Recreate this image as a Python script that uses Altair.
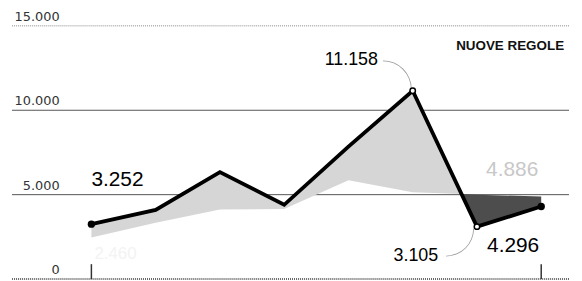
import math
import altair as alt
import pandas as pd

# ---- data ----
periods = [0, 1, 2, 3, 4, 5, 6, 7]
totale = [3252, 4100, 6340, 4400, 7850, 11158, 3105, 4296]        # black line
precedente = [2460, 3340, 4120, 4150, 5850, 5150, 5000, 4886]     # light grey line
grid_values = [0, 5000, 10000, 15000]
grid_labels = ["0", "5.000", "10.000", "15.000"]
legend_text = "NUOVE REGOLE"


def it(v):
    return f"{v:,}".replace(",", ".")


df = pd.DataFrame({"p": periods, "a": totale, "b": precedente})

# split the band where the two lines cross (derived from the data)
light_rows, dark_rows = [], []
for i in range(len(periods)):
    d = totale[i] - precedente[i]
    row = {"p": periods[i], "a": totale[i], "b": precedente[i]}
    (light_rows if d >= 0 else dark_rows).append(row)
    if i + 1 < len(periods):
        d2 = totale[i + 1] - precedente[i + 1]
        if d * d2 < 0:
            t = d / (d - d2)
            xc = periods[i] + t * (periods[i + 1] - periods[i])
            yc = totale[i] + t * (totale[i + 1] - totale[i])
            cross = {"p": xc, "a": yc, "b": yc}
            light_rows.append(cross)
            dark_rows.append(cross)
light_df = pd.DataFrame(light_rows)
dark_df = pd.DataFrame(dark_rows)

grid_df = pd.DataFrame({"v": grid_values, "label": grid_labels})

xs = alt.Scale(domain=[-1.236, 7.433], nice=False, zero=False)
ys = alt.Scale(domain=[0, 15000], nice=False, zero=False)
X = alt.X("p:Q", scale=xs, axis=None)
Y = alt.Y("a:Q", scale=ys, axis=None)
YB = alt.Y("b:Q", scale=ys, axis=None)

grid_solid = alt.Chart(grid_df).transform_filter(
    "datum.v == 5000 || datum.v == 10000"
).mark_rule(color="#555555", strokeWidth=1).encode(y=alt.Y("v:Q", scale=ys, axis=None))

grid_top = alt.Chart(grid_df).transform_filter("datum.v == 15000").mark_rule(
    color="#888888", strokeWidth=1, strokeDash=[1, 1]
).encode(y=alt.Y("v:Q", scale=ys, axis=None))

grid_base = alt.Chart(grid_df).transform_filter("datum.v == 0").mark_rule(
    color="#333333", strokeWidth=1.5, strokeDash=[1, 1]
).encode(y=alt.Y("v:Q", scale=ys, axis=None))

grid_text = alt.Chart(grid_df).mark_text(
    align="right", baseline="alphabetic", dy=-5, font="DejaVu Sans",
    fontSize=13, color="#333333"
).encode(x=alt.value(48), y=alt.Y("v:Q", scale=ys, axis=None), text="label:N")

light_area = alt.Chart(light_df).mark_area(color="#d6d6d6", opacity=1).encode(
    x=X, y=Y, y2="b:Q"
)
dark_area = alt.Chart(dark_df).mark_area(color="#4d4d4d", opacity=1).encode(
    x=X, y=Y, y2="b:Q"
)

line = alt.Chart(df).mark_line(color="black", strokeWidth=3.8, strokeJoin="miter").encode(x=X, y=Y)

end_points = alt.Chart(df).transform_filter("datum.p == 0 || datum.p == 7").mark_point(
    filled=True, color="black", size=55, opacity=1
).encode(x=X, y=Y)

open_points = alt.Chart(df).transform_filter("datum.p == 5 || datum.p == 6").mark_point(
    filled=True, fill="white", stroke="black", strokeWidth=1.5, size=30, opacity=1
).encode(x=X, y=Y)

arc_max = alt.Chart(df).transform_filter("datum.p == 5").mark_arc(
    radius=29, radius2=28.2, theta=0, theta2=math.pi / 2, color="#999999",
    xOffset=-30, yOffset=-1.5
).encode(x=X, y=Y)

arc_min = alt.Chart(df).transform_filter("datum.p == 6").mark_arc(
    radius=28, radius2=27.2, theta=math.pi / 2, theta2=math.pi, color="#999999",
    xOffset=-31, yOffset=2
).encode(x=X, y=Y)

ticks = alt.Chart(df).transform_filter("datum.p == 0 || datum.p == 7").mark_rule(
    color="#333333", strokeWidth=1.5
).encode(x=X, y=alt.value(240), y2=alt.value(255))

df_lab = df.assign(la=[it(v) for v in totale], lb=[it(v) for v in precedente])

lab_first = alt.Chart(df_lab).transform_filter("datum.p == 0").mark_text(
    align="left", baseline="middle", dy=-44, fontSize=21, font="Liberation Sans", color="black"
).encode(x=X, y=Y, text="la:N")

lab_last = alt.Chart(df_lab).transform_filter("datum.p == 7").mark_text(
    align="right", baseline="middle", dx=-2, dy=40, fontSize=21, font="Liberation Sans", color="black"
).encode(x=X, y=Y, text="la:N")

lab_last_b = alt.Chart(df_lab).transform_filter("datum.p == 7").mark_text(
    align="right", baseline="middle", dx=-3, dy=-27, fontSize=21, font="Liberation Sans", color="#c8c8c8"
).encode(x=X, y=YB, text="lb:N")

lab_first_b = alt.Chart(df_lab).transform_filter("datum.p == 0").mark_text(
    align="left", baseline="middle", dx=3, dy=17, fontSize=17, font="Liberation Sans", color="#f3f3f3"
).encode(x=X, y=YB, text="lb:N")

lab_max = alt.Chart(df_lab).transform_filter("datum.p == 5").mark_text(
    align="right", baseline="middle", dx=-35, dy=-31, fontSize=18, font="Liberation Sans", color="black"
).encode(x=X, y=Y, text="la:N")

lab_min = alt.Chart(df_lab).transform_filter("datum.p == 6").mark_text(
    align="right", baseline="middle", dx=-39, dy=29.5, fontSize=18, font="Liberation Sans", color="black"
).encode(x=X, y=Y, text="la:N")

legend = alt.Chart(pd.DataFrame({"t": [legend_text]})).mark_text(
    align="right", baseline="alphabetic", fontSize=13.5, fontWeight="bold",
    font="Liberation Sans", color="#111111"
).encode(x=alt.value(556), y=alt.value(24), text="t:N")

chart = alt.layer(
    grid_solid, grid_top, grid_base, grid_text,
    light_area, dark_area, arc_max, arc_min, line, end_points, open_points,
    ticks, lab_first, lab_last, lab_last_b, lab_first_b, lab_max, lab_min, legend
).properties(
    width=561, height=255,
    background="white",
    autosize=alt.AutoSizeParams(type="none"),
    padding={"left": 4, "top": 17, "right": 5, "bottom": 5},
).configure_view(stroke=None, strokeWidth=0)

chart.save("out.html", embed_options={"renderer": "svg", "actions": False})
